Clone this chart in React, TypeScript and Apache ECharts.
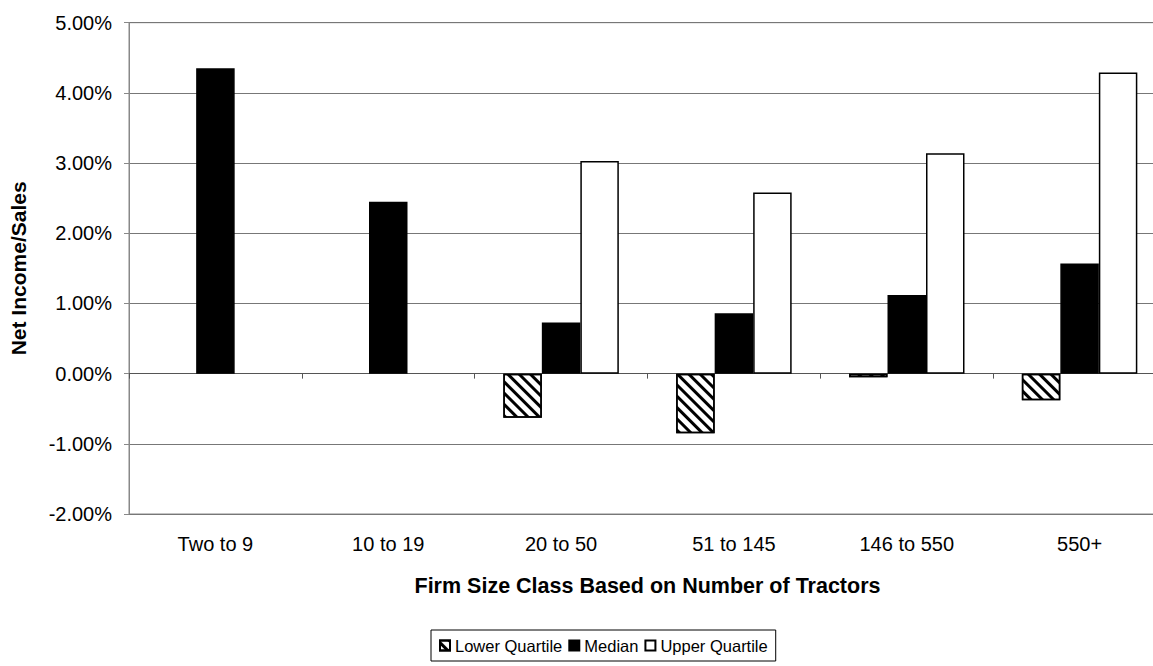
import React, { useEffect, useRef } from "react";
import * as echarts from "echarts";

const categories = ["Two to 9", "10 to 19", "20 to 50", "51 to 145", "146 to 550", "550+"];
const lowerQuartile = [null, null, -0.63, -0.85, -0.05, -0.38];
const median = [4.35, 2.45, 0.73, 0.86, 1.12, 1.57];
const upperQuartile = [null, null, 3.03, 2.58, 3.14, 4.29];
const seriesNames = ["Lower Quartile", "Median", "Upper Quartile"];
const yMin = -2;
const yMax = 5;
const yInterval = 1;
const yTitle = "Net Income/Sales";
const xTitle = "Firm Size Class Based on Number of Tractors";

const FONT = "'Liberation Sans', Arial, sans-serif";

export default function App() {
  const ref = useRef<HTMLDivElement>(null);
  useEffect(() => {
    if (!ref.current) return;
    const chart = echarts.init(ref.current, null, { renderer: "svg" });
    const barBase = { type: "bar", barWidth: 38.5, barGap: "0%", xAxisIndex: 0, yAxisIndex: 0 };
    chart.setOption({
      animation: false,
      backgroundColor: "#fff",
      textStyle: { fontFamily: FONT, color: "#000" },
      grid: {
        left: 128,
        top: 22.7,
        width: 1038,
        height: 491.3,
        show: true,
        borderColor: "#888",
        borderWidth: 1,
        backgroundColor: "transparent",
      },
      legend: {
        data: seriesNames,
        left: 431,
        top: 630,
        orient: "horizontal",
        itemWidth: 10,
        itemHeight: 10,
        itemGap: 6,
        padding: [7, 8, 7, 8],
        borderColor: "#000",
        borderWidth: 1,
        icon: "rect",
        textStyle: { fontSize: 16.5, fontFamily: FONT, color: "#000" },
      },
      xAxis: [
        {
          type: "category",
          data: categories,
          position: "bottom",
          axisLine: { onZero: true, lineStyle: { color: "#555", width: 1 } },
          axisTick: { show: true, length: 5, lineStyle: { color: "#555" } },
          axisLabel: { show: false },
          splitLine: { show: false },
        },
        {
          type: "category",
          data: categories,
          position: "bottom",
          axisLine: { show: false, onZero: false },
          axisTick: { show: false },
          axisLabel: { show: true, fontSize: 20, color: "#000", fontFamily: FONT, margin: 20 },
          splitLine: { show: false },
          name: xTitle,
          nameLocation: "middle",
          nameGap: 61,
          nameTextStyle: { fontSize: 21.5, fontWeight: "bold", color: "#000", fontFamily: FONT },
        },
      ],
      yAxis: {
        type: "value",
        min: yMin,
        max: yMax,
        interval: yInterval,
        axisLine: { show: true, lineStyle: { color: "#888" } },
        axisTick: { show: true, length: 5, lineStyle: { color: "#888" } },
        axisLabel: {
          fontSize: 20,
          color: "#000",
          fontFamily: FONT,
          margin: 17,
          formatter: (v: number) => v.toFixed(2) + "%",
        },
        splitLine: { show: true, lineStyle: { color: "#777", width: 1 } },
        name: yTitle,
        nameLocation: "middle",
        nameGap: 100,
        nameRotate: 90,
        nameTextStyle: { fontSize: 21, fontWeight: "bold", color: "#000", fontFamily: FONT },
      },
      series: [
        {
          ...barBase,
          name: seriesNames[0],
          data: lowerQuartile,
          itemStyle: {
            color: "#fff",
            borderColor: "#000",
            borderWidth: 1.5,
            decal: {
              color: "#000",
              symbol: "rect",
              symbolSize: 1,
              dashArrayX: [1, 0],
              dashArrayY: [3, 5],
              rotation: Math.PI / 4,
            },
          },
        },
        {
          ...barBase,
          name: seriesNames[1],
          data: median,
          itemStyle: { color: "#000", borderColor: "#000", borderWidth: 1.5 },
        },
        {
          ...barBase,
          name: seriesNames[2],
          data: upperQuartile,
          itemStyle: { color: "#fff", borderColor: "#000", borderWidth: 1.5 },
        },
      ],
    });
    return () => chart.dispose();
  }, []);
  return (
    <div
      ref={ref}
      style={{ position: "fixed", left: 0, top: 0, width: 1180, height: 666, background: "#fff" }}
    />
  );
}
